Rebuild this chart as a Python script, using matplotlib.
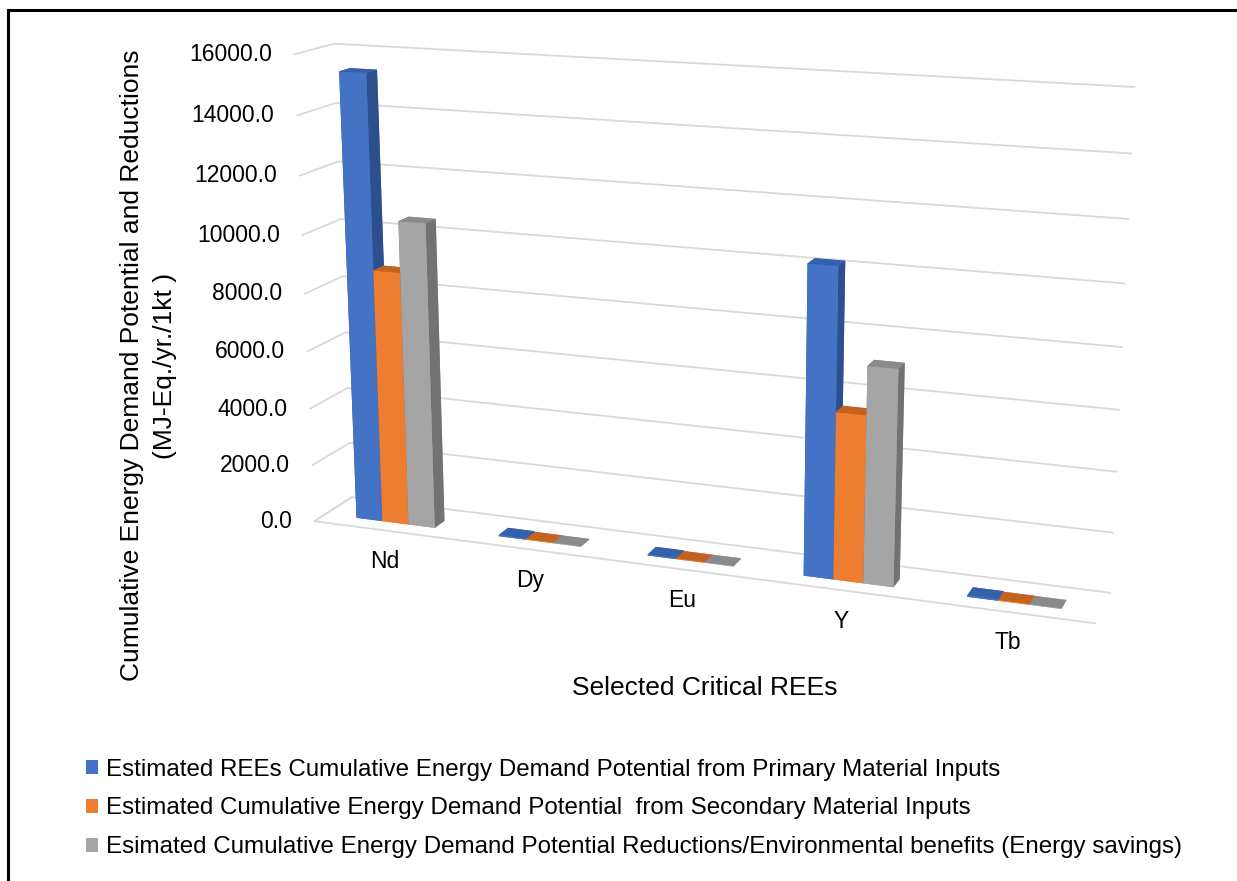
import numpy as np
import matplotlib
matplotlib.use("Agg")
import matplotlib.pyplot as plt
import matplotlib.transforms as mtransforms
from matplotlib.patches import Patch
from matplotlib.lines import Line2D
from mpl_toolkits.mplot3d import proj3d

plt.rcParams['font.family'] = ['Liberation Sans', 'DejaVu Sans']

categories = ["Nd", "Dy", "Eu", "Y", "Tb"]
series_names = [
    "Estimated REEs Cumulative Energy Demand Potential from Primary Material Inputs",
    "Estimated Cumulative Energy Demand Potential  from Secondary Material Inputs",
    "Esimated Cumulative Energy Demand Potential Reductions/Environmental benefits (Energy savings)",
]
primary = [15400.0, 45.0, 40.0, 10270.0, 45.0]
secondary = [8800.0, 25.0, 20.0, 5570.0, 25.0]
reductions = [10550.0, 20.0, 20.0, 7170.0, 20.0]
values = [primary, secondary, reductions]
z_ticks = [0, 2000, 4000, 6000, 8000, 10000, 12000, 14000, 16000]

front_cols = ["#4472C4", "#ED7D31", "#A5A5A5"]
top_cols = ["#3560AC", "#C4621F", "#8A8A8A"]
side_cols = ["#2E4F8E", "#B0561A", "#727272"]

fig = plt.figure(figsize=(12.37, 8.81), dpi=100)
cx, cy = 0.5543, 0.6258
ax = fig.add_axes([cx - 0.43, cy - 0.43, 0.86, 0.86], projection='3d')
ax.computed_zorder = False
ax.set_proj_type('persp', focal_length=0.5714)
ax.view_init(elev=14.72, azim=-69.94)

n = len(categories)
xlo, xhi = -0.5, n - 0.5
ax.set_xlim(xlo, xhi)
ax.set_ylim(0, 1)
ax.set_zlim(0, 16000)
ax.set_box_aspect((5.0, 0.5005, 2.9886), zoom=1.2572)

# floor edges (front and left), light grey like the gridlines
edge, = ax.plot([xlo, xlo, xhi], [1, 0, 0], [0, 0, 0], color='#d9d9d9', lw=1.3, zorder=0.5)
edge.set_clip_on(False)

bw = 0.185
depth = 0.28
y0 = 0.30
for i in range(n):
    for s, vals in enumerate(values):
        x_left = i + (s - 1) * bw - bw / 2
        # face order: -z, +z, -y, +y, -x, +x
        face = [front_cols[s], top_cols[s], front_cols[s], front_cols[s], side_cols[s], side_cols[s]]
        col = ax.bar3d([x_left], [y0], [0.0], bw, depth, [vals[i]],
                       color=face, shade=False, edgecolor='none', zorder=1 + 3 * i + s)
        col.set_clip_on(False)

ax.set_xticks([])
ax.set_yticks([])
ax.set_zticks(z_ticks)
ax.set_zticklabels([])

for axis in (ax.xaxis, ax.yaxis, ax.zaxis):
    axis.set_pane_color((1, 1, 1, 1))
    axis.pane.set_edgecolor('none')
    axis.line.set_color((0, 0, 0, 0))
    axis._axinfo['grid']['color'] = (0.85, 0.85, 0.85, 1)
    axis._axinfo['grid']['linewidth'] = 1.3
    axis._axinfo['tick']['inward_factor'] = 0
    axis._axinfo['tick']['outward_factor'] = 0

# project 3D anchor points to the 2D plane of the axes for the labels
M = ax.get_proj()
zx, zy, _ = proj3d.proj_transform(np.full(len(z_ticks), xlo), np.zeros(len(z_ticks)),
                                  np.array(z_ticks, float), M)
tick_tr = mtransforms.offset_copy(ax.transData, fig=fig, x=-22, y=0, units='dots')
for px, py, v in zip(zx, zy, z_ticks):
    ax.text2D(px, py, f"{v:.1f}", transform=tick_tr, ha='right', va='center', fontsize=16.5)

cxs, cys, _ = proj3d.proj_transform(np.arange(n, dtype=float), np.zeros(n), np.zeros(n), M)
cat_tr = mtransforms.offset_copy(ax.transData, fig=fig, x=0, y=-31, units='dots')
for px, py, c in zip(cxs, cys, categories):
    t = ax.text2D(px, py, c, transform=cat_tr, ha='center', va='center', fontsize=16.5)
    t.set_clip_on(False)

fig.text(0.570, 0.219, "Selected Critical REEs", ha='center', va='center', fontsize=19)
fig.text(0.120, 0.585, "Cumulative Energy Demand Potential and Reductions\n(MJ-Eq./yr./1kt )",
         rotation=90, ha='center', va='center', fontsize=19, linespacing=1.5)

handles = [Patch(facecolor=c, edgecolor='none') for c in front_cols]
fig.legend(handles, series_names, loc='upper left', bbox_to_anchor=(0.062, 0.150),
           frameon=False, fontsize=17.4, handlelength=0.5, handleheight=0.5,
           handletextpad=0.3, labelspacing=0.70, borderaxespad=0)

fig.add_artist(Line2D([0.0065, 0.0065], [0.0, 0.989], transform=fig.transFigure, color='black', lw=2.2))
fig.add_artist(Line2D([0.0065, 1.0], [0.989, 0.989], transform=fig.transFigure, color='black', lw=2.2))

fig.savefig("out.png", dpi=100)
